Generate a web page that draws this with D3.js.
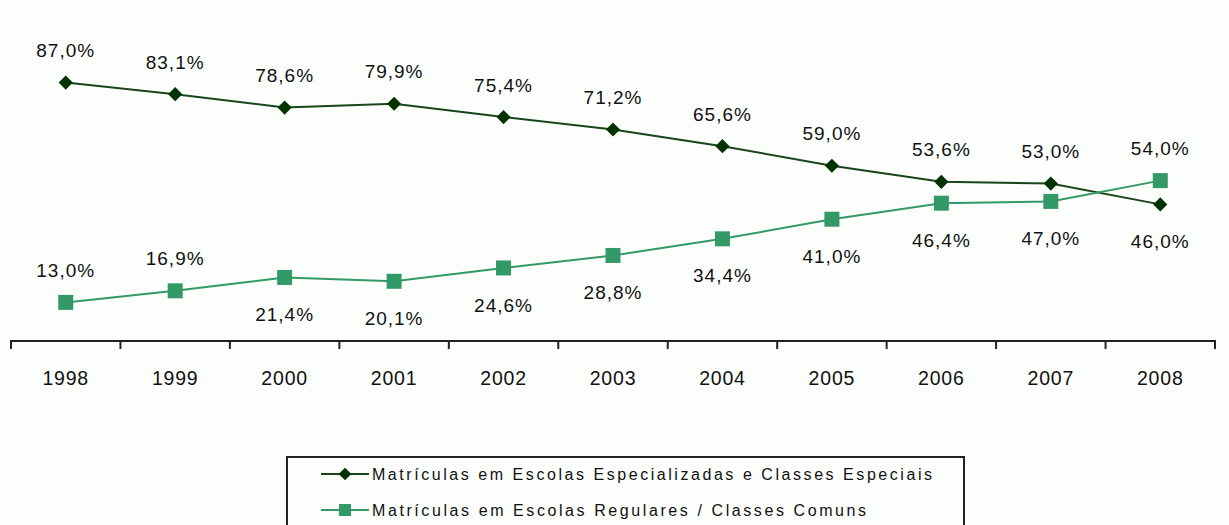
<!DOCTYPE html>
<html><head><meta charset="utf-8">
<script src="https://cdn.jsdelivr.net/npm/d3@7"></script>
<style>
html,body{margin:0;padding:0;background:#fcfefc;}
svg{display:block;font-family:"Liberation Sans",Arial,sans-serif;}
</style></head>
<body>
<svg id="chart" width="1229" height="525"></svg>
<script>
const years = ["1998","1999","2000","2001","2002","2003","2004","2005","2006","2007","2008"];
const especiais = [87.0, 83.1, 78.6, 79.9, 75.4, 71.2, 65.6, 59.0, 53.6, 53.0, 46.0];
const regulares = [13.0, 16.9, 21.4, 20.1, 24.6, 28.8, 34.4, 41.0, 46.4, 47.0, 54.0];
const especiaisLabelPos = ["above","above","above","above","above","above","above","above","above","above","below"];
const regularesLabelPos = ["above","above","below","below","below","below","below","below","below","below","above"];
const seriesNames = ["Matrículas em Escolas Especializadas e Classes Especiais",
                     "Matrículas em Escolas Regulares / Classes Comuns"];

const svg = d3.select("#chart");
const x = d3.scaleBand().domain(years).range([11, 1215]);
const y = d3.scaleLinear().domain([0, 100]).range([341, 44]);
const cx = d => x(d) + x.bandwidth()/2;
const fmt = v => d3.format(".1f")(v).replace(".", ",") + "%";

// axis
const axis = d3.axisBottom(x).tickSize(8).tickSizeOuter(8).tickFormat(d => d).tickPadding(22);
const ag = svg.append("g").attr("transform", "translate(0,341)").call(axis);
ag.select(".domain").attr("stroke", "#222").attr("stroke-width", 2)
  .attr("d", "M11,8V0H1215V8");
ag.selectAll(".tick line").remove();
const bounds = d3.range(years.length + 1).map(i => 11 + i * x.step());
ag.selectAll("line.bt").data(bounds).enter().append("line")
  .attr("x1", d => d).attr("x2", d => d).attr("y1", 0).attr("y2", 8)
  .attr("stroke", "#222").attr("stroke-width", 2);
ag.selectAll(".tick text").attr("font-size", 19.5).attr("fill", "#111")
  .attr("font-family", "Liberation Sans, Arial, sans-serif").attr("letter-spacing", 0.8);

const series = [
  {vals: especiais, pos: especiaisLabelPos, color: "#003300", line: "#1a441a", shape: "diamond"},
  {vals: regulares, pos: regularesLabelPos, color: "#339966", line: "#339966", shape: "square"}
];

const line = d3.line().x((d, i) => cx(years[i])).y(d => y(d));

series.forEach(s => {
  svg.append("path").datum(s.vals).attr("d", line)
    .attr("fill", "none").attr("stroke", s.line).attr("stroke-width", 2);
});
series.forEach(s => {
  const g = svg.append("g");
  if (s.shape === "diamond") {
    g.selectAll("path").data(s.vals).enter().append("path")
      .attr("d", d3.symbol(d3.symbolSquare, 100)())
      .attr("transform", (d, i) => `translate(${cx(years[i])},${y(d)}) rotate(45)`)
      .attr("fill", s.color);
  } else {
    g.selectAll("rect").data(s.vals).enter().append("rect")
      .attr("x", (d, i) => cx(years[i]) - 7.5).attr("y", d => y(d) - 7.5)
      .attr("width", 15).attr("height", 15).attr("fill", s.color);
  }
  svg.append("g").selectAll("text").data(s.vals).enter().append("text")
    .attr("x", (d, i) => cx(years[i]))
    .attr("y", (d, i) => y(d) + (s.pos[i] === "above" ? -32 : 37))
    .attr("dy", "0.35em")
    .attr("text-anchor", "middle")
    .attr("font-size", 19).attr("letter-spacing", 1).attr("fill", "#111")
    .text(fmt);
});

// legend
const lg = svg.append("g");
lg.append("rect").attr("x", 287).attr("y", 457).attr("width", 677).attr("height", 80)
  .attr("fill", "#fcfefc").attr("stroke", "#222").attr("stroke-width", 2);
const legendWidths = [560, 494];
series.forEach((s, i) => {
  const ly = 474 + i * 36;
  lg.append("line").attr("x1", 321).attr("x2", 369).attr("y1", ly).attr("y2", ly)
    .attr("stroke", s.line).attr("stroke-width", 2);
  if (s.shape === "diamond") {
    lg.append("path").attr("d", d3.symbol(d3.symbolSquare, 80)())
      .attr("transform", `translate(345,${ly}) rotate(45)`).attr("fill", s.color);
  } else {
    lg.append("rect").attr("x", 339).attr("y", ly - 6).attr("width", 12).attr("height", 12).attr("fill", s.color);
  }
  lg.append("text").attr("x", 372).attr("y", ly).attr("dy", "0.35em")
    .attr("font-size", 16).attr("fill", "#111")
    .attr("textLength", legendWidths[i]).attr("lengthAdjust", "spacing")
    .text(seriesNames[i]);
});
</script>
</body></html>
